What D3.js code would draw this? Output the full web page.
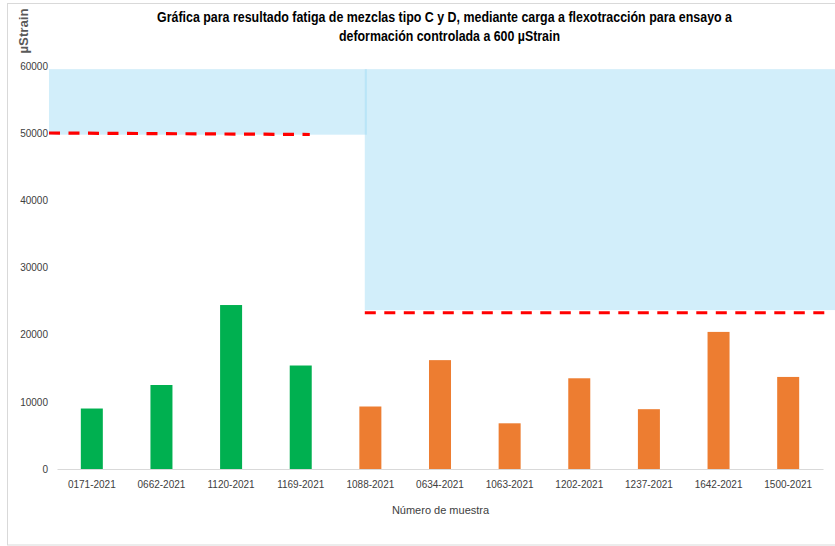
<!DOCTYPE html>
<html>
<head>
<meta charset="utf-8">
<script src="https://cdn.jsdelivr.net/npm/d3@7"></script>
<style>
  body { margin: 0; background: #fff; }
  svg { display: block; }
</style>
</head>
<body>
<div id="chart"></div>
<script>
// data
const muestras = ['0171-2021', '0662-2021', '1120-2021', '1169-2021', '1088-2021', '0634-2021',
  '1063-2021', '1202-2021', '1237-2021', '1642-2021', '1500-2021'];
const valores = [9000, 12500, 24400, 15400, 9300, 16200, 6800, 13500, 8900, 20400, 13700];
const tipos = ['C', 'C', 'C', 'C', 'D', 'D', 'D', 'D', 'D', 'D', 'D'];
const yTicks = [0, 10000, 20000, 30000, 40000, 50000, 60000];
// shaded zones (category position from, to / value low, high)
const zonas = [
  { desde: -0.115, hasta: 4.45, bajo: 49750, alto: 59500 },
  { desde: 4.42, hasta: 11.2, bajo: 23650, alto: 59500 }
];
// dashed limit lines (category position, value)
const limiteC = [[-0.115, 50000], [3.63, 49780]];
const limiteD = [[4.42, 23250], [11.1, 23250]];

const titulo = ['Gráfica para resultado fatiga de mezclas tipo C y D, mediante carga a flexotracción para ensayo a',
  'deformación controlada a 600 µStrain'];

const W = 835, H = 546;
const mLeft = 57, mRight = 823, mTop = 65.8, mBottom = 469;

const svg = d3.select('#chart').append('svg')
  .attr('width', W)
  .attr('height', H);

// chart border
svg.append('rect')
  .attr('x', 7.5).attr('y', 3.5)
  .attr('width', 840).attr('height', 541.5)
  .attr('fill', '#fff')
  .attr('stroke', '#d9d9d9');

const x = d3.scaleBand()
  .domain(muestras)
  .range([mLeft, mRight])
  .paddingInner(0.684)
  .paddingOuter(0.342);

const xi = d3.scaleLinear().domain([0, 11]).range([mLeft, mRight]);

const y = d3.scaleLinear()
  .domain([0, 60000])
  .range([mBottom, mTop]);

const color = t => t === 'C' ? '#00b050' : '#ed7d31';

// zones
svg.append('g').selectAll('rect')
  .data(zonas)
  .enter()
  .append('rect')
  .attr('x', d => xi(d.desde))
  .attr('y', d => y(d.alto))
  .attr('width', d => xi(d.hasta) - xi(d.desde))
  .attr('height', d => y(d.bajo) - y(d.alto))
  .attr('fill', '#9bd9f3')
  .attr('fill-opacity', 0.45);

// bars
svg.append('g').selectAll('rect')
  .data(valores)
  .enter()
  .append('rect')
  .attr('x', (d, i) => x(muestras[i]))
  .attr('y', d => y(d))
  .attr('width', x.bandwidth())
  .attr('height', d => mBottom - y(d))
  .attr('fill', (d, i) => color(tipos[i]));

// limit lines
const line = d3.line().x(d => xi(d[0])).y(d => y(d[1]));
[limiteC, limiteD].forEach(l => {
  svg.append('path')
    .attr('d', line(l))
    .attr('fill', 'none')
    .attr('stroke', '#ff0000')
    .attr('stroke-width', 3.2)
    .attr('stroke-dasharray', '11,8.5');
});

// x axis
const xAxis = d3.axisBottom(x).tickSize(0).tickPadding(12);
const gx = svg.append('g')
  .attr('transform', `translate(0,${mBottom})`)
  .call(xAxis);
gx.select('.domain').attr('stroke', '#d9d9d9').attr('stroke-width', 1.2);
gx.selectAll('text')
  .attr('fill', '#404040')
  .style('font', '10px "Liberation Sans", Arial, sans-serif');

// y axis
const yAxis = d3.axisLeft(y).tickValues(yTicks).tickSize(0).tickPadding(9).tickFormat(d3.format('d'));
const gy = svg.append('g')
  .attr('transform', `translate(${mLeft},0)`)
  .call(yAxis);
gy.select('.domain').remove();
gy.selectAll('text')
  .attr('fill', '#404040')
  .style('font', '10px "Liberation Sans", Arial, sans-serif');

// titles
svg.selectAll('.titulo')
  .data(titulo)
  .enter()
  .append('text')
  .attr('class', 'titulo')
  .attr('x', (d, i) => i === 0 ? 444.5 : 449.5)
  .attr('y', (d, i) => 22 + i * 19)
  .attr('text-anchor', 'middle')
  .attr('textLength', (d, i) => i === 0 ? 575 : 221)
  .attr('lengthAdjust', 'spacingAndGlyphs')
  .attr('fill', '#000')
  .style('font', 'bold 14px "Liberation Sans Narrow", "Arial Narrow", "Liberation Sans", sans-serif')
  .text(d => d);

svg.append('text')
  .attr('transform', 'translate(28,31) rotate(-90)')
  .attr('text-anchor', 'middle')
  .attr('fill', '#595959')
  .attr('textLength', 45)
  .attr('lengthAdjust', 'spacingAndGlyphs')
  .style('font', 'bold 13px "Liberation Sans Narrow", "Arial Narrow", "Liberation Sans", sans-serif')
  .text('µStrain');

svg.append('text')
  .attr('x', 440.5)
  .attr('y', 514)
  .attr('text-anchor', 'middle')
  .attr('fill', '#404040')
  .style('font', '11px "Liberation Sans", Arial, sans-serif')
  .text('Número de muestra');
</script>
</body>
</html>
